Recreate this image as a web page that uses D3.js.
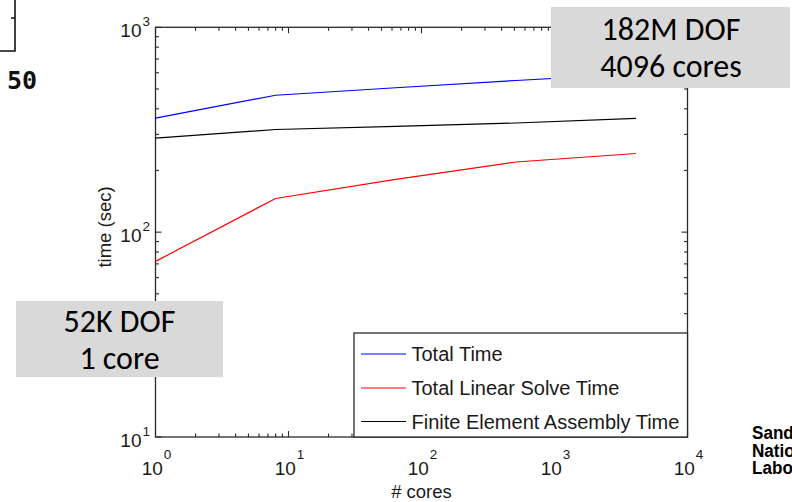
<!DOCTYPE html>
<html>
<head>
<meta charset="utf-8">
<script src="https://cdn.jsdelivr.net/npm/d3@7"></script>
<style>
  html, body { margin: 0; padding: 0; background: #fff; }
  svg { display: block; }
</style>
</head>
<body>
<svg id="chart" width="792" height="502"></svg>
<script>
// ---- data ----
const cores = [1, 8, 64, 512, 4096];
const totalTime = [360, 466, 507, 550, 593];
const linearSolveTime = [72, 146, 181, 220, 242];
const feAssemblyTime = [288, 317, 328, 341, 359];

const seriesNames = ["Total Time", "Total Linear Solve Time", "Finite Element Assembly Time"];
const seriesColors = ["#0000ff", "#ff0000", "#000000"];
const xMajorTicks = [1, 10, 100, 1000, 10000];
const yMajorTicks = [10, 100, 1000];
const xLabel = "# cores";
const yLabel = "time (sec)";
const noteTopLines = ["182M DOF", "4096 cores"];
const noteBottomLines = ["52K DOF", "1 core"];
const logoLines = ["Sandia", "National", "Laboratories"];

// ---- layout ----
const svg = d3.select("#chart");
const L = 155.5, R = 687.5, T = 27.3, B = 437;
const x = d3.scaleLog().domain([1, 10000]).range([L, R]);
const y = d3.scaleLog().domain([10, 1000]).range([B, T]);
const axisColor = "#2a2a2a";
const textColor = "#1a1a1a";
const axisFont = "'Liberation Sans', Arial, Helvetica, sans-serif";

// ---- fragment of neighbouring figure (top-left) ----
svg.append("path").attr("d", "M15,0 V51 H0 M11,18 H15")
  .attr("fill", "none").attr("stroke", "#111").attr("stroke-width", 1.6);
svg.append("text").attr("x", 7).attr("y", 89)
  .attr("font-family", "'DejaVu Sans Mono', monospace").attr("font-weight", "bold")
  .attr("font-size", 25).attr("fill", "#111").text("50");

// ---- plot box ----
svg.append("rect").attr("x", L).attr("y", T).attr("width", R - L).attr("height", B - T)
  .attr("fill", "#fff").attr("stroke", axisColor).attr("stroke-width", 1.3);

// ticks
const isMajor = v => Math.abs(Math.log10(v) - Math.round(Math.log10(v))) < 1e-9;
const xt = x.ticks();
const yt = y.ticks();
const tickG = svg.append("g").attr("stroke", axisColor).attr("stroke-width", 1.1);
xt.forEach(v => {
  const len = isMajor(v) ? 6 : 3.5;
  const px = x(v);
  tickG.append("line").attr("x1", px).attr("x2", px).attr("y1", B).attr("y2", B - len);
  tickG.append("line").attr("x1", px).attr("x2", px).attr("y1", T).attr("y2", T + len);
});
yt.forEach(v => {
  const len = isMajor(v) ? 6 : 3.5;
  const py = y(v);
  tickG.append("line").attr("x1", L).attr("x2", L + len).attr("y1", py).attr("y2", py);
  tickG.append("line").attr("x1", R).attr("x2", R - len).attr("y1", py).attr("y2", py);
});

// tick labels
xMajorTicks.forEach(v => {
  const t = svg.append("text").attr("x", x(v) + 1).attr("y", 475)
    .attr("text-anchor", "middle").attr("font-family", axisFont)
    .attr("font-size", 19).attr("fill", textColor);
  t.append("tspan").text("10");
  t.append("tspan").attr("dy", -16).attr("dx", 1).attr("font-size", 13.5).text(Math.round(Math.log10(v)));
});
yMajorTicks.forEach(v => {
  const t = svg.append("text").attr("x", 150).attr("y", y(v) + 10)
    .attr("text-anchor", "end").attr("font-family", axisFont)
    .attr("font-size", 19).attr("fill", textColor);
  t.append("tspan").text("10");
  t.append("tspan").attr("dy", -11).attr("dx", 1).attr("font-size", 13.5).text(Math.round(Math.log10(v)));
});

// axis titles
svg.append("text").attr("x", (L + R) / 2).attr("y", 498).attr("text-anchor", "middle")
  .attr("font-family", axisFont).attr("font-size", 18.5).attr("fill", textColor).text(xLabel);
svg.append("text").attr("transform", `translate(111,227) rotate(-90)`)
  .attr("text-anchor", "middle").attr("font-family", axisFont).attr("font-size", 18.5)
  .attr("fill", textColor).text(yLabel);

// ---- lines ----
const allSeries = [totalTime, linearSolveTime, feAssemblyTime];
const line = d3.line().x(d => x(d[0])).y(d => y(d[1]));
allSeries.forEach((vals, i) => {
  svg.append("path").datum(cores.map((c, j) => [c, vals[j]]))
    .attr("d", line).attr("fill", "none")
    .attr("stroke", seriesColors[i]).attr("stroke-width", 1.2);
});

// ---- legend ----
const lg = svg.append("g");
lg.append("rect").attr("x", 354).attr("y", 333).attr("width", R - 354).attr("height", B - 333)
  .attr("fill", "#fff").attr("stroke", axisColor).attr("stroke-width", 1.3);
const legendY = [354, 388, 421.5];
seriesNames.forEach((name, i) => {
  lg.append("line").attr("x1", 361).attr("x2", 406).attr("y1", legendY[i]).attr("y2", legendY[i])
    .attr("stroke", seriesColors[i]).attr("stroke-width", 1.2);
  lg.append("text").attr("x", 411.5).attr("y", legendY[i] + 7)
    .attr("font-family", axisFont).attr("font-size", 20).attr("fill", textColor).text(name);
});

// ---- annotation boxes ----
const noteFont = "Carlito, Calibri, 'Open Sans', sans-serif";
svg.append("rect").attr("x", 551).attr("y", 7).attr("width", 239).attr("height", 81).attr("fill", "#d9d9d9");
noteTopLines.forEach((s, i) => {
  svg.append("text").attr("x", 671).attr("y", [39.5, 77][i]).attr("text-anchor", "middle")
    .attr("font-family", noteFont).attr("font-size", 32).attr("fill", "#000").text(s);
});
svg.append("rect").attr("x", 16).attr("y", 301).attr("width", 207).attr("height", 76).attr("fill", "#d9d9d9");
noteBottomLines.forEach((s, i) => {
  svg.append("text").attr("x", 119.5).attr("y", [332, 369][i]).attr("text-anchor", "middle")
    .attr("font-family", noteFont).attr("font-size", 32).attr("fill", "#000").text(s);
});

// ---- logo text (clipped at right edge, as in the reference) ----
const logo = svg.append("text").attr("transform", "translate(752,0) scale(0.9,1)")
  .attr("font-family", "'Liberation Sans', Arial, sans-serif")
  .attr("font-weight", "bold").attr("font-size", 19).attr("fill", "#000");
logoLines.forEach((s, i) => {
  logo.append("tspan").attr("x", 0).attr("y", [439.5, 457, 474.5][i]).text(s);
});
</script>
</body>
</html>
